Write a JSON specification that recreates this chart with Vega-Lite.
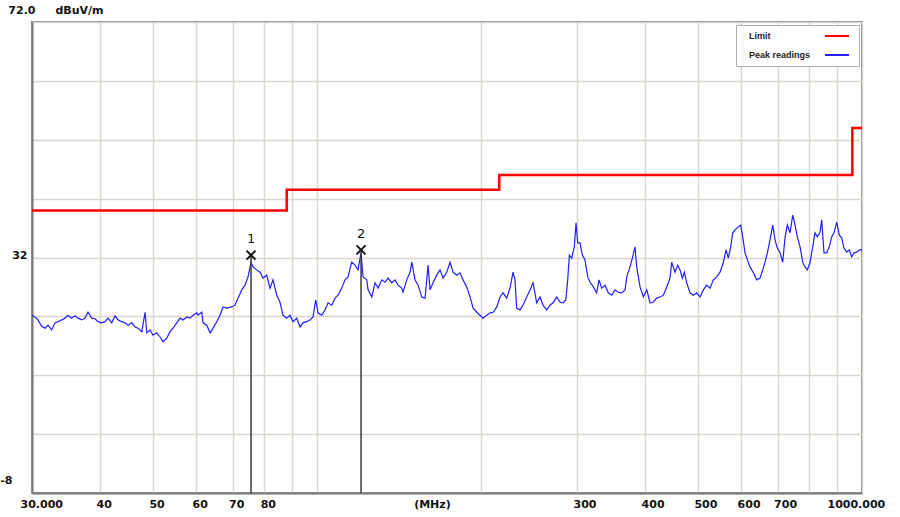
{
  "$schema": "https://vega.github.io/schema/vega-lite/v6.json",
  "width": 830,
  "height": 471,
  "autosize": {"type": "none"},
  "padding": {"left": 32, "top": 22, "right": 38, "bottom": 24},
  "background": "white",
  "config": {"view": {"stroke": "#8a8a8a", "strokeWidth": 2}, "font": "DejaVu Sans"},
  "datasets": {
    "limit": [
      {"freq": 30, "level": 40},
      {"freq": 88, "level": 43.5},
      {"freq": 216, "level": 46},
      {"freq": 960, "level": 54},
      {"freq": 1000, "level": 54}
    ],
    "markers": [
      {"id": "1", "freq": 75.68, "level": 32.4},
      {"id": "2", "freq": 120.46, "level": 33.3}
    ],
    "peak": [
      {"freq":30.0,"level":22.2},{"freq":30.38,"level":21.9},{"freq":30.77,"level":21.4},{"freq":31.25,"level":20.3},{"freq":31.7,"level":20.0},{"freq":32.1,"level":20.5},{"freq":32.6,"level":19.7},{"freq":33.06,"level":20.9},{"freq":33.48,"level":21.1},{"freq":34.01,"level":21.4},{"freq":34.49,"level":21.7},{"freq":34.93,"level":22.2},{"freq":35.48,"level":21.7},{"freq":35.98,"level":22.1},{"freq":36.44,"level":21.7},{"freq":37.01,"level":21.4},{"freq":37.53,"level":21.7},{"freq":38.01,"level":22.7},{"freq":38.61,"level":21.7},{"freq":39.15,"level":21.6},{"freq":39.65,"level":21.1},{"freq":40.28,"level":20.9},{"freq":40.84,"level":21.1},{"freq":41.36,"level":21.7},{"freq":42.02,"level":20.9},{"freq":42.61,"level":22.1},{"freq":43.16,"level":21.4},{"freq":43.84,"level":21.1},{"freq":44.45,"level":20.9},{"freq":45.02,"level":20.5},{"freq":45.73,"level":20.9},{"freq":46.37,"level":20.2},{"freq":46.96,"level":20.0},{"freq":47.71,"level":19.4},{"freq":48.37,"level":22.7},{"freq":48.72,"level":19.2},{"freq":49.41,"level":19.7},{"freq":50.02,"level":18.8},{"freq":50.81,"level":19.2},{"freq":51.53,"level":18.5},{"freq":52.19,"level":17.7},{"freq":53.01,"level":18.3},{"freq":53.75,"level":19.4},{"freq":54.44,"level":20.0},{"freq":55.3,"level":20.9},{"freq":56.08,"level":21.7},{"freq":56.79,"level":21.4},{"freq":57.69,"level":21.9},{"freq":58.49,"level":21.7},{"freq":59.24,"level":22.2},{"freq":60.17,"level":22.6},{"freq":60.51,"level":22.2},{"freq":61.46,"level":22.7},{"freq":61.8,"level":20.9},{"freq":62.78,"level":20.5},{"freq":63.66,"level":19.2},{"freq":64.47,"level":20.0},{"freq":65.49,"level":21.1},{"freq":66.39,"level":22.2},{"freq":67.24,"level":23.6},{"freq":68.29,"level":23.4},{"freq":69.75,"level":23.6},{"freq":70.74,"level":23.9},{"freq":71.64,"level":25.1},{"freq":72.77,"level":26.5},{"freq":73.78,"level":27.3},{"freq":74.72,"level":28.7},{"freq":75.68,"level":31.2},{"freq":76.32,"level":30.4},{"freq":77.53,"level":29.9},{"freq":78.61,"level":29.5},{"freq":79.61,"level":28.5},{"freq":80.86,"level":29.0},{"freq":82.0,"level":26.8},{"freq":83.05,"level":28.2},{"freq":84.36,"level":25.6},{"freq":85.53,"level":24.4},{"freq":86.64,"level":22.2},{"freq":87.99,"level":21.7},{"freq":89.23,"level":22.2},{"freq":90.37,"level":21.1},{"freq":91.8,"level":21.7},{"freq":93.08,"level":20.2},{"freq":94.27,"level":20.9},{"freq":95.76,"level":21.1},{"freq":97.11,"level":21.4},{"freq":98.35,"level":21.9},{"freq":99.47,"level":24.8},{"freq":100.44,"level":22.6},{"freq":102.03,"level":22.2},{"freq":103.45,"level":23.1},{"freq":104.77,"level":24.3},{"freq":106.43,"level":23.9},{"freq":107.93,"level":25.1},{"freq":109.3,"level":25.6},{"freq":111.03,"level":26.8},{"freq":112.58,"level":28.2},{"freq":114.01,"level":28.7},{"freq":115.81,"level":31.2},{"freq":117.45,"level":30.7},{"freq":118.94,"level":29.9},{"freq":120.46,"level":32.8},{"freq":121.48,"level":28.7},{"freq":123.4,"level":28.2},{"freq":124.09,"level":26.5},{"freq":126.05,"level":25.3},{"freq":127.83,"level":27.7},{"freq":129.46,"level":26.8},{"freq":131.51,"level":28.2},{"freq":133.34,"level":27.8},{"freq":135.04,"level":28.5},{"freq":137.13,"level":27.7},{"freq":139.07,"level":28.2},{"freq":140.84,"level":27.3},{"freq":143.05,"level":26.8},{"freq":143.83,"level":26.1},{"freq":146.11,"level":28.2},{"freq":148.18,"level":29.5},{"freq":149.25,"level":31.2},{"freq":151.34,"level":28.2},{"freq":153.27,"level":27.3},{"freq":155.69,"level":25.3},{"freq":157.87,"level":25.1},{"freq":159.88,"level":30.7},{"freq":161.24,"level":26.5},{"freq":163.29,"level":27.7},{"freq":165.87,"level":29.0},{"freq":168.19,"level":29.9},{"freq":170.33,"level":28.5},{"freq":173.02,"level":29.5},{"freq":175.44,"level":31.2},{"freq":177.68,"level":29.5},{"freq":180.47,"level":29.0},{"freq":183.02,"level":29.4},{"freq":185.35,"level":28.2},{"freq":188.27,"level":27.0},{"freq":190.94,"level":25.3},{"freq":193.37,"level":23.4},{"freq":196.43,"level":22.7},{"freq":199.12,"level":22.2},{"freq":201.66,"level":21.7},{"freq":204.86,"level":22.2},{"freq":207.75,"level":22.6},{"freq":210.44,"level":22.7},{"freq":213.75,"level":23.6},{"freq":216.74,"level":25.3},{"freq":219.49,"level":26.0},{"freq":222.9,"level":25.1},{"freq":226.05,"level":26.8},{"freq":228.93,"level":29.5},{"freq":230.84,"level":28.2},{"freq":232.5,"level":23.4},{"freq":235.78,"level":23.1},{"freq":238.79,"level":23.9},{"freq":242.56,"level":25.3},{"freq":245.98,"level":26.5},{"freq":249.12,"level":27.7},{"freq":253.0,"level":24.3},{"freq":256.58,"level":25.3},{"freq":259.85,"level":23.9},{"freq":263.96,"level":23.1},{"freq":267.69,"level":23.9},{"freq":271.1,"level":24.3},{"freq":275.34,"level":25.3},{"freq":279.23,"level":24.4},{"freq":282.78,"level":24.3},{"freq":286.06,"level":24.8},{"freq":288.44,"level":28.2},{"freq":290.44,"level":32.4},{"freq":293.37,"level":31.9},{"freq":296.57,"level":33.8},{"freq":298.76,"level":37.9},{"freq":300.9,"level":34.5},{"freq":303.8,"level":34.5},{"freq":306.8,"level":32.4},{"freq":310.3,"level":31.6},{"freq":313.9,"level":28.7},{"freq":317.0,"level":27.8},{"freq":321.4,"level":27.0},{"freq":326.0,"level":26.0},{"freq":329.2,"level":28.2},{"freq":333.0,"level":26.8},{"freq":337.7,"level":27.3},{"freq":342.4,"level":26.0},{"freq":347.4,"level":25.6},{"freq":352.3,"level":26.5},{"freq":357.2,"level":26.1},{"freq":362.4,"level":26.0},{"freq":367.5,"level":26.5},{"freq":370.1,"level":28.7},{"freq":375.3,"level":30.4},{"freq":379.0,"level":31.9},{"freq":383.3,"level":33.8},{"freq":386.1,"level":30.4},{"freq":391.5,"level":27.0},{"freq":397.1,"level":25.3},{"freq":402.8,"level":26.5},{"freq":408.4,"level":24.3},{"freq":414.1,"level":24.4},{"freq":420.1,"level":25.1},{"freq":426.0,"level":25.3},{"freq":432.0,"level":25.6},{"freq":438.3,"level":27.0},{"freq":444.4,"level":28.5},{"freq":447.6,"level":31.2},{"freq":453.9,"level":29.5},{"freq":459.1,"level":30.7},{"freq":463.6,"level":29.9},{"freq":468.1,"level":28.5},{"freq":472.1,"level":29.5},{"freq":476.9,"level":27.7},{"freq":483.6,"level":26.0},{"freq":490.4,"level":25.6},{"freq":497.5,"level":26.0},{"freq":504.5,"level":25.3},{"freq":511.6,"level":26.5},{"freq":518.9,"level":27.3},{"freq":526.2,"level":26.8},{"freq":533.6,"level":28.2},{"freq":541.3,"level":28.7},{"freq":548.9,"level":29.5},{"freq":556.6,"level":31.1},{"freq":563.0,"level":33.3},{"freq":568.5,"level":31.9},{"freq":574.3,"level":33.8},{"freq":579.2,"level":36.2},{"freq":584.8,"level":36.7},{"freq":593.1,"level":37.2},{"freq":599.1,"level":37.5},{"freq":604.1,"level":35.5},{"freq":610.1,"level":32.8},{"freq":616.1,"level":31.6},{"freq":623.0,"level":30.4},{"freq":631.9,"level":29.4},{"freq":641.0,"level":28.2},{"freq":650.0,"level":28.5},{"freq":657.4,"level":29.9},{"freq":663.9,"level":31.2},{"freq":670.4,"level":32.8},{"freq":678.0,"level":35.0},{"freq":685.8,"level":37.5},{"freq":692.5,"level":35.0},{"freq":699.2,"level":33.6},{"freq":707.3,"level":32.8},{"freq":715.4,"level":31.2},{"freq":722.5,"level":35.5},{"freq":729.5,"level":37.5},{"freq":737.8,"level":36.2},{"freq":746.3,"level":39.2},{"freq":753.6,"level":37.5},{"freq":760.9,"level":35.5},{"freq":769.7,"level":33.8},{"freq":778.4,"level":31.2},{"freq":786.0,"level":30.4},{"freq":793.7,"level":29.9},{"freq":802.7,"level":31.1},{"freq":812.0,"level":33.8},{"freq":819.9,"level":36.2},{"freq":827.9,"level":35.5},{"freq":837.5,"level":36.3},{"freq":843.5,"level":38.4},{"freq":851.7,"level":32.8},{"freq":861.5,"level":32.8},{"freq":870.9,"level":33.8},{"freq":879.8,"level":35.5},{"freq":888.5,"level":36.2},{"freq":898.6,"level":38.0},{"freq":908.6,"level":35.8},{"freq":917.8,"level":35.3},{"freq":926.7,"level":33.6},{"freq":937.4,"level":32.9},{"freq":947.9,"level":33.3},{"freq":957.5,"level":32.1},{"freq":967.1,"level":32.8},{"freq":978.1,"level":32.9},{"freq":988.8,"level":33.3},{"freq":1000,"level":33.3}
    ]
  },
  "encoding": {
    "x": {
      "field": "freq",
      "type": "quantitative",
      "scale": {"type": "log", "domain": [30, 1000], "nice": false},
      "axis": {
        "values": [30, 40, 50, 60, 70, 80, 90, 100, 153, 200, 300, 400, 500, 600, 700, 800, 900, 1000],
        "labelExpr": "datum.value == 30 ? '30.000' : datum.value == 1000 ? '1000.000' : datum.value == 153 ? '(MHz)' : (datum.value == 90 || datum.value == 100 || datum.value == 200 || datum.value == 800 || datum.value == 900) ? '' : (datum.value + '')",
        "title": null,
        "grid": true,
        "gridColor": "#dad6ce",
        "gridWidth": 1.5,
        "gridOpacity": {"condition": {"test": "datum.value == 153", "value": 0}, "value": 1},
        "ticks": false,
        "tickSize": 0,
        "domain": true,
        "domainColor": "#7a7a7a",
        "domainWidth": 2,
        "labelFont": "DejaVu Sans",
        "labelFontSize": 11,
        "labelFontWeight": "bold",
        "labelColor": "#111111",
        "labelAlign": "left",
        "labelBaseline": "top",
        "labelPadding": 5,
        "labelOffset": {"condition": [{"test": "datum.value == 30", "value": -12}, {"test": "datum.value == 1000", "value": -35}], "value": -4},
        "labelOverlap": false,
        "labelFlush": false,
        "labelBound": false
      }
    },
    "y": {
      "field": "level",
      "type": "quantitative",
      "scale": {"domain": [-8, 72], "nice": false, "zero": false},
      "axis": {
        "values": [-8, 2, 12, 22, 32, 42, 52, 62, 72],
        "labelExpr": "datum.value == 72 ? '72.0' : (datum.value == 32 || datum.value == -8) ? (datum.value + '') : ''",
        "grid": true,
        "gridColor": "#dad6ce",
        "gridWidth": 1.5,
        "ticks": false,
        "tickSize": 0,
        "domain": true,
        "domainColor": "#7a7a7a",
        "domainWidth": 2,
        "labelFont": "DejaVu Sans",
        "labelFontSize": 11,
        "labelFontWeight": "bold",
        "labelColor": "#111111",
        "labelAlign": "right",
        "labelBaseline": "middle",
        "labelPadding": {"condition": [{"test": "datum.value == -8", "value": 20}, {"test": "datum.value == 72", "value": -3}], "value": 5},
        "labelOffset": {"condition": [{"test": "datum.value == -8", "value": -13}, {"test": "datum.value == 72", "value": -12}], "value": -2},
        "labelOverlap": false,
        "labelFlush": false,
        "title": "dBuV/m",
        "titleAngle": 0,
        "titleAlign": "left",
        "titleBaseline": "middle",
        "titleX": 23,
        "titleY": -12,
        "titleFont": "DejaVu Sans",
        "titleFontSize": 11,
        "titleFontWeight": "bold",
        "titleColor": "#111111"
      }
    }
  },
  "layer": [
    {
      "data": {"name": "limit"},
      "mark": {"type": "line", "interpolate": "step-after", "strokeWidth": 2.5},
      "encoding": {
        "color": {
          "datum": "Limit",
          "type": "nominal",
          "scale": {"domain": ["Limit", "Peak readings"], "range": ["#ff0000", "#1f1fff"]},
          "legend": {
            "title": null,
            "orient": "top-right",
            "offset": 3,
            "symbolType": "M-3,0L3,0",
            "symbolSize": 64,
            "symbolStrokeWidth": 2,
            "symbolOffset": 90,
            "labelOffset": -93,
            "labelFont": "Liberation Sans",
            "labelFontSize": 9,
            "labelFontWeight": "bold",
            "labelColor": "#222222",
            "labelLimit": 0,
            "fillColor": "white",
            "strokeColor": "#b0b0b0",
            "padding": 6,
            "rowPadding": 9
          }
        }
      }
    },
    {
      "data": {"name": "peak"},
      "mark": {"type": "line", "strokeWidth": 1.2},
      "encoding": {"color": {"datum": "Peak readings", "type": "nominal"}}
    },
    {
      "data": {"name": "markers"},
      "mark": {"type": "rule", "color": "#3a3a3a", "strokeWidth": 1.5},
      "encoding": {"y2": {"datum": -8}}
    },
    {
      "data": {"name": "markers"},
      "mark": {"type": "point", "shape": "M-1,-1L1,1M-1,1L1,-1", "filled": false, "color": "#111111", "strokeWidth": 2, "size": 81, "opacity": 1}
    },
    {
      "data": {"name": "markers"},
      "mark": {"type": "text", "dy": -16, "font": "DejaVu Sans", "fontSize": 13, "color": "#111111"},
      "encoding": {"text": {"field": "id"}}
    }
  ]
}
